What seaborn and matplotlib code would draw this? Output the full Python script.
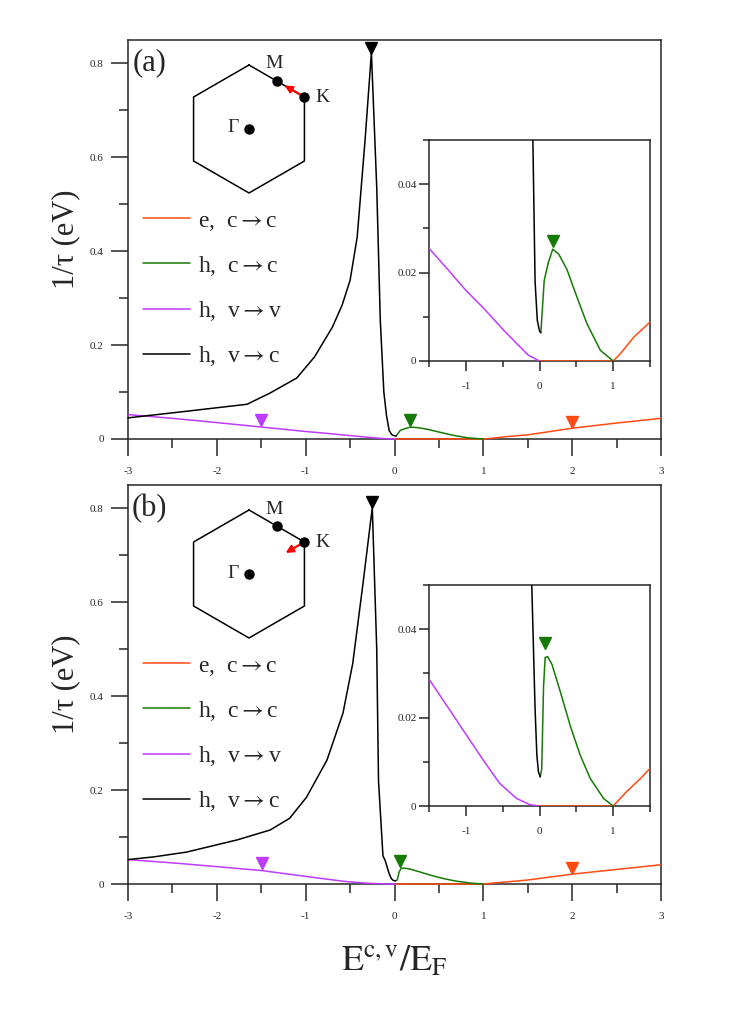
import numpy as np
import matplotlib
matplotlib.use('Agg')
import matplotlib.pyplot as plt
import seaborn as sns
from matplotlib.ticker import MultipleLocator, FuncFormatter

# ---------------- data, panel (a) ----------------
a_e_cc_x = [0.0, 1.0, 1.1, 1.28, 1.5, 2.0, 2.5, 3.0]
a_e_cc_y = [0.0, 0.0, 0.0017, 0.0054, 0.0088, 0.023, 0.034, 0.044]
a_h_cc_x = [0.018, 0.04, 0.064, 0.12, 0.18, 0.26, 0.37, 0.51, 0.645, 0.827, 1.0]
a_h_cc_y = [0.0064, 0.012, 0.0182, 0.0223, 0.0253, 0.0242, 0.0208, 0.0144, 0.0084, 0.0024, 0.0]
a_h_vv_x = [-3.0, -2.5, -2.0, -1.5, -1.25, -1.0, -0.75, -0.5, -0.3, -0.15, 0.0]
a_h_vv_y = [0.052, 0.044, 0.035, 0.0255, 0.0208, 0.016, 0.0118, 0.0072, 0.0038, 0.0013, 0.0]
a_h_vc_x = [-3.0, -2.3, -1.66, -1.4, -1.1, -0.9, -0.7, -0.59, -0.5, -0.42, -0.33, -0.26,
            -0.2, -0.16, -0.12, -0.09, -0.06, -0.03, 0.0, 0.018]
a_h_vc_y = [0.045, 0.06, 0.074, 0.098, 0.13, 0.175, 0.238, 0.285, 0.338, 0.43, 0.64, 0.823,
            0.536, 0.253, 0.10, 0.05, 0.018, 0.0092, 0.0068, 0.0064]
a_mark_x = [2.0, 0.18, -1.5, -0.26]
a_mark_y = [0.036, 0.040, 0.041, 0.832]
a_inset_mark = (0.18, 0.0272)

# ---------------- data, panel (b) ----------------
b_e_cc_x = [0.0, 1.0, 1.18, 1.37, 1.5, 2.0, 2.5, 3.0]
b_e_cc_y = [0.0, 0.0, 0.0032, 0.0062, 0.0085, 0.021, 0.031, 0.041]
b_h_cc_x = [0.01, 0.03, 0.055, 0.077, 0.11, 0.17, 0.28, 0.42, 0.555, 0.69, 0.87, 1.0]
b_h_cc_y = [0.0066, 0.0084, 0.027, 0.0336, 0.0338, 0.032, 0.026, 0.018, 0.0114, 0.0062, 0.0017, 0.0]
b_h_vv_x = [-3.0, -2.5, -2.0, -1.5, -1.23, -0.99, -0.76, -0.54, -0.31, -0.13, 0.0]
b_h_vv_y = [0.052, 0.045, 0.037, 0.0287, 0.022, 0.016, 0.0103, 0.0051, 0.0017, 0.0003, 0.0]
b_h_vc_x = [-3.0, -2.7, -2.34, -1.77, -1.4, -1.18, -0.99, -0.76, -0.58, -0.47, -0.35, -0.25,
            -0.2, -0.18, -0.13, -0.105, -0.06, -0.036, -0.014, 0.01]
b_h_vc_y = [0.052, 0.058, 0.068, 0.094, 0.115, 0.14, 0.185, 0.264, 0.364, 0.47, 0.647, 0.802,
            0.50, 0.22, 0.06, 0.05, 0.022, 0.0115, 0.0077, 0.0066]
b_mark_x = [2.0, 0.067, -1.49, -0.25]
b_mark_y = [0.034, 0.048, 0.045, 0.813]
b_inset_mark = (0.077, 0.0368)

labels = [r'e,  c$\rightarrow$c', r'h,  c$\rightarrow$c',
          r'h,  v$\rightarrow$v', r'h,  v$\rightarrow$c']
colors = ['#ff4a12', '#167a06', '#be3cff', 'black']

sns.set_theme(style='ticks')
plt.rcParams['font.family'] = ['Liberation Serif', 'DejaVu Serif']
plt.rcParams['mathtext.fontset'] = 'stix'
plt.rcParams['axes.unicode_minus'] = False
plt.rcParams['axes.linewidth'] = 1.1

W, H = 731, 1034


def box(l, t, r, b):
    return [l / W, 1 - b / H, (r - l) / W, (b - t) / H]


def fmt(v, _):
    if abs(v) < 1e-9:
        return '0'
    return f'{round(v, 6):g}'


fig = plt.figure(figsize=(W / 100, H / 100), dpi=100)


def draw_panel(top, tag, curves, mark_x, mark_y, inset_mark, arrow_to_gamma):
    ax = fig.add_axes(box(128, top, 661, top + 399))
    for (x, y), c, lab in zip(curves, colors, labels):
        sns.lineplot(x=x, y=y, ax=ax, color=c, lw=1.1, label=lab,
                     estimator=None, sort=False, clip_on=False, zorder=3)
    for mx, my, c in zip(mark_x, mark_y, colors):
        ax.plot(mx, my, 'v', color=c, ms=9, clip_on=False, zorder=4)
    ax.set_xlim(-3, 3)
    ax.set_ylim(0, 0.85)
    ax.xaxis.set_major_locator(MultipleLocator(1))
    ax.xaxis.set_minor_locator(MultipleLocator(0.5))
    ax.yaxis.set_major_locator(MultipleLocator(0.2))
    ax.yaxis.set_minor_locator(MultipleLocator(0.1))
    ax.xaxis.set_major_formatter(FuncFormatter(fmt))
    ax.yaxis.set_major_formatter(FuncFormatter(fmt))
    ax.tick_params(which='major', direction='out', length=12.5, width=1.1, labelsize=8)
    ax.tick_params(which='minor', direction='out', length=6.5, width=1.1)
    ax.tick_params(axis='x', which='major', pad=8)
    ax.tick_params(axis='y', which='major', pad=5)
    ax.set_ylabel('1/\u03c4 (eV)', fontsize=22, labelpad=7)
    ax.legend(loc='upper left', bbox_to_anchor=(0.028, 0.574), frameon=False,
              fontsize=17, handlelength=2.0, handletextpad=0.35, labelspacing=0.9,
              borderpad=0, borderaxespad=0)
    ax.text(0.041, 0.942, tag, transform=ax.transAxes, fontsize=22,
            ha='center', va='center')

    # inset zoom near the Fermi level
    ins = fig.add_axes(box(429, top + 100, 650, top + 321))
    for (x, y), c in zip(curves, colors):
        sns.lineplot(x=x, y=y, ax=ins, color=c, lw=1.1, legend=False,
                     estimator=None, sort=False, zorder=3)
    ins.plot(inset_mark[0], inset_mark[1], 'v', color=colors[1], ms=9, zorder=4)
    ins.set_xlim(-1.5, 1.5)
    ins.set_ylim(0, 0.05)
    ins.xaxis.set_major_locator(MultipleLocator(1))
    ins.xaxis.set_minor_locator(MultipleLocator(0.5))
    ins.yaxis.set_major_locator(MultipleLocator(0.02))
    ins.yaxis.set_minor_locator(MultipleLocator(0.01))
    ins.xaxis.set_major_formatter(FuncFormatter(fmt))
    ins.yaxis.set_major_formatter(FuncFormatter(fmt))
    ins.tick_params(which='major', direction='out', length=7, width=1.1, labelsize=8)
    ins.tick_params(which='minor', direction='out', length=4.3, width=1.1)
    ins.tick_params(axis='x', which='major', pad=8)
    ins.tick_params(axis='y', which='major', pad=2)

    # Brillouin zone sketch
    hx = fig.add_axes(box(169, top + 10, 339, top + 168))
    hx.set_xlim(-80, 90)
    hx.set_ylim(-79, 79)
    hx.axis('off')
    R = 64
    ang = np.deg2rad(90 + 60 * np.arange(7))
    hx.plot(R * np.cos(ang), R * np.sin(ang), color='black', lw=1.1)
    K = np.array([R * np.cos(np.pi / 6), R * np.sin(np.pi / 6)])
    M = np.array([K[0] / 2, (K[1] + R) / 2])
    G = np.array([0.0, 0.0])
    hx.plot([G[0], M[0], K[0]], [G[1], M[1], K[1]], 'o', color='black', ms=6.5, zorder=4)
    end = K + 0.34 * (G - K) if arrow_to_gamma else K + 0.72 * (M - K)
    hx.annotate('', xy=end, xytext=K,
                arrowprops=dict(arrowstyle='-|>', color='red', lw=1.6,
                                mutation_scale=11, shrinkA=0, shrinkB=0), zorder=3)
    hx.text(M[0] - 3, M[1] + 17, 'M', fontsize=14, ha='center', va='center')
    hx.text(K[0] + 18, K[1], 'K', fontsize=14, ha='center', va='center')
    hx.text(G[0] - 16, G[1] + 1, '\u0393', fontsize=14, ha='center', va='center')
    return ax


curves_a = [(a_e_cc_x, a_e_cc_y), (a_h_cc_x, a_h_cc_y), (a_h_vv_x, a_h_vv_y), (a_h_vc_x, a_h_vc_y)]
curves_b = [(b_e_cc_x, b_e_cc_y), (b_h_cc_x, b_h_cc_y), (b_h_vv_x, b_h_vv_y), (b_h_vc_x, b_h_vc_y)]

draw_panel(40, '(a)', curves_a, a_mark_x, a_mark_y, a_inset_mark, False)
ax_b = draw_panel(485, '(b)', curves_b, b_mark_x, b_mark_y, b_inset_mark, True)
ax_b.set_xlabel(r'$\mathrm{E^{c,v}/E_F}$', fontsize=26, labelpad=16)

fig.savefig('out.png', dpi=100)
